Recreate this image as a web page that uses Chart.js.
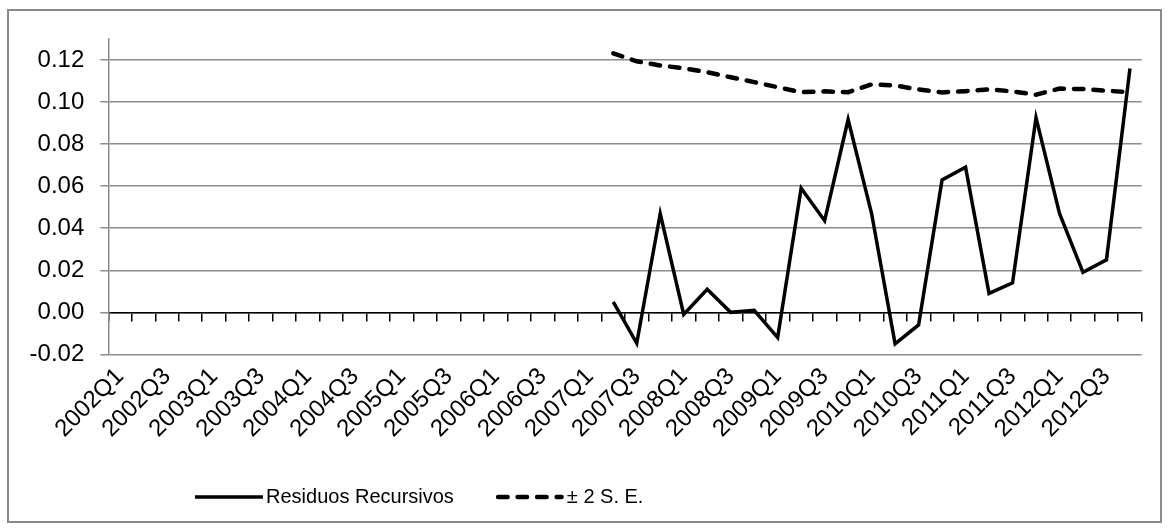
<!DOCTYPE html>
<html>
<head>
<meta charset="utf-8">
<script src="https://cdn.jsdelivr.net/npm/chart.js@4.4.1/dist/chart.umd.min.js"></script>
<style>
  html, body { margin: 0; padding: 0; background: #ffffff; }
  canvas { display: block; }
</style>
</head>
<body>
<canvas id="chart" width="1169" height="531"></canvas>
<script>
// Trimestres 2002Q1 - 2012Q4
const quarters = [
  '2002Q1','2002Q2','2002Q3','2002Q4','2003Q1','2003Q2','2003Q3','2003Q4',
  '2004Q1','2004Q2','2004Q3','2004Q4','2005Q1','2005Q2','2005Q3','2005Q4',
  '2006Q1','2006Q2','2006Q3','2006Q4','2007Q1','2007Q2','2007Q3','2007Q4',
  '2008Q1','2008Q2','2008Q3','2008Q4','2009Q1','2009Q2','2009Q3','2009Q4',
  '2010Q1','2010Q2','2010Q3','2010Q4','2011Q1','2011Q2','2011Q3','2011Q4',
  '2012Q1','2012Q2','2012Q3','2012Q4'
];

// Residuos recursivos (disponibles desde 2007Q2)
const residuos = [
  null, null, null, null, null, null, null, null, null, null, null,
  null, null, null, null, null, null, null, null, null, null,
  0.005, -0.0147, 0.047, -0.001, 0.011, 0.000, 0.001, -0.012,
  0.059, 0.0436, 0.0917, 0.047, -0.015, -0.006, 0.063, 0.069,
  0.009, 0.014, 0.0926, 0.047, 0.019, 0.025, 0.116
];

// Banda superior de +2 errores estándar
const bandaSE = [
  null, null, null, null, null, null, null, null, null, null, null,
  null, null, null, null, null, null, null, null, null, null,
  0.1232, 0.1194, 0.1174, 0.1161, 0.1142, 0.1118, 0.1095, 0.1071,
  0.1047, 0.1051, 0.1047, 0.1084, 0.1079, 0.1060, 0.1046, 0.1052,
  0.1060, 0.1051, 0.1035, 0.1064, 0.1062, 0.1054, 0.1047
];

// Marcas del eje vertical
const yTicks = [-0.02, 0.00, 0.02, 0.04, 0.06, 0.08, 0.10, 0.12];

const FONT = '"Liberation Sans", Arial, sans-serif';
const Y_FONT_SIZE = 24;
const X_FONT_SIZE = 24;
const LEGEND_FONT_SIZE = 20;
const GRID_GRAY = '#8c8c8c';

// Marco exterior del gráfico
const framePlugin = {
  id: 'frame',
  beforeDraw(chart) {
    const ctx = chart.ctx;
    ctx.save();
    ctx.fillStyle = '#ffffff';
    ctx.fillRect(0, 0, chart.width, chart.height);
    ctx.strokeStyle = '#8a8a8a';
    ctx.lineWidth = 2;
    ctx.strokeRect(8, 10, 1153, 512);
    ctx.restore();
  }
};

// Leyenda inferior con muestras de línea
const legendPlugin = {
  id: 'lineLegend',
  afterDraw(chart) {
    const ctx = chart.ctx;
    const sample = 68, textGap = 3, itemGap = 42;
    const startX = 195, y = 497;
    ctx.save();
    ctx.font = LEGEND_FONT_SIZE + 'px ' + FONT;
    ctx.textBaseline = 'middle';
    ctx.fillStyle = '#000000';
    let x = startX;
    chart.data.datasets.forEach(ds => {
      ctx.beginPath();
      ctx.strokeStyle = ds.borderColor;
      ctx.lineWidth = ds.borderWidth;
      ctx.lineCap = ds.borderCapStyle || 'butt';
      ctx.setLineDash(ds.borderDash || []);
      const inset = ds.borderCapStyle === 'round' ? ds.borderWidth / 2 : 0;
      ctx.moveTo(x + inset, y);
      ctx.lineTo(x + sample - inset, y);
      ctx.stroke();
      ctx.setLineDash([]);
      x += sample + textGap;
      ctx.textAlign = 'left';
      ctx.fillText(ds.label, x, y);
      x += ctx.measureText(ds.label).width + itemGap;
    });
    ctx.restore();
  }
};

new Chart(document.getElementById('chart'), {
  type: 'line',
  data: {
    labels: quarters,
    datasets: [
      {
        label: 'Residuos Recursivos',
        data: residuos,
        borderColor: '#000000',
        borderWidth: 3.5,
        borderCapStyle: 'butt',
        pointRadius: 0,
        tension: 0,
        fill: false
      },
      {
        label: '± 2 S. E.',
        data: bandaSE,
        borderColor: '#000000',
        borderWidth: 4.5,
        borderDash: [9.5, 10],
        borderCapStyle: 'round',
        pointRadius: 0,
        tension: 0,
        fill: false
      }
    ]
  },
  options: {
    responsive: false,
    animation: false,
    devicePixelRatio: 1,
    layout: { padding: { left: 0, right: 27.3, top: 39, bottom: 0 } },
    plugins: {
      legend: { display: false },
      tooltip: { enabled: false }
    },
    scales: {
      x: {
        type: 'category',
        position: 'bottom',
        offset: true,
        grid: { display: false, drawTicks: false },
        border: { display: false },
        ticks: {
          autoSkip: false,
          minRotation: 45,
          maxRotation: 45,
          padding: 8,
          color: '#000000',
          font: { family: FONT, size: X_FONT_SIZE },
          callback: (v, i) => (i % 2 === 0 ? quarters[i] : '')
        },
        afterFit: s => { s.height = 531 - 354.4; }
      },
      xAxis0: {
        type: 'category',
        axis: 'x',
        position: { y: 0 },
        offset: true,
        grid: {
          offset: true,
          drawOnChartArea: false,
          drawTicks: true,
          tickLength: 8,
          color: '#000000',
          tickColor: '#000000',
          lineWidth: 1.5
        },
        border: { display: true, color: '#000000', width: 1.5 },
        ticks: { display: false }
      },
      y: {
        type: 'linear',
        position: 'left',
        min: -0.02,
        max: 0.13,
        afterBuildTicks: s => { s.ticks = yTicks.map(v => ({ value: v })); },
        grid: {
          color: GRID_GRAY,
          lineWidth: 1.5,
          drawTicks: true,
          tickLength: 8,
          tickColor: GRID_GRAY
        },
        border: { display: true, color: GRID_GRAY, width: 1.5 },
        ticks: {
          padding: 16,
          color: '#000000',
          font: { family: FONT, size: Y_FONT_SIZE },
          callback: v => v.toFixed(2)
        },
        afterFit: s => { s.width = 108.3; }
      }
    }
  },
  plugins: [framePlugin, legendPlugin]
});
</script>
</body>
</html>
